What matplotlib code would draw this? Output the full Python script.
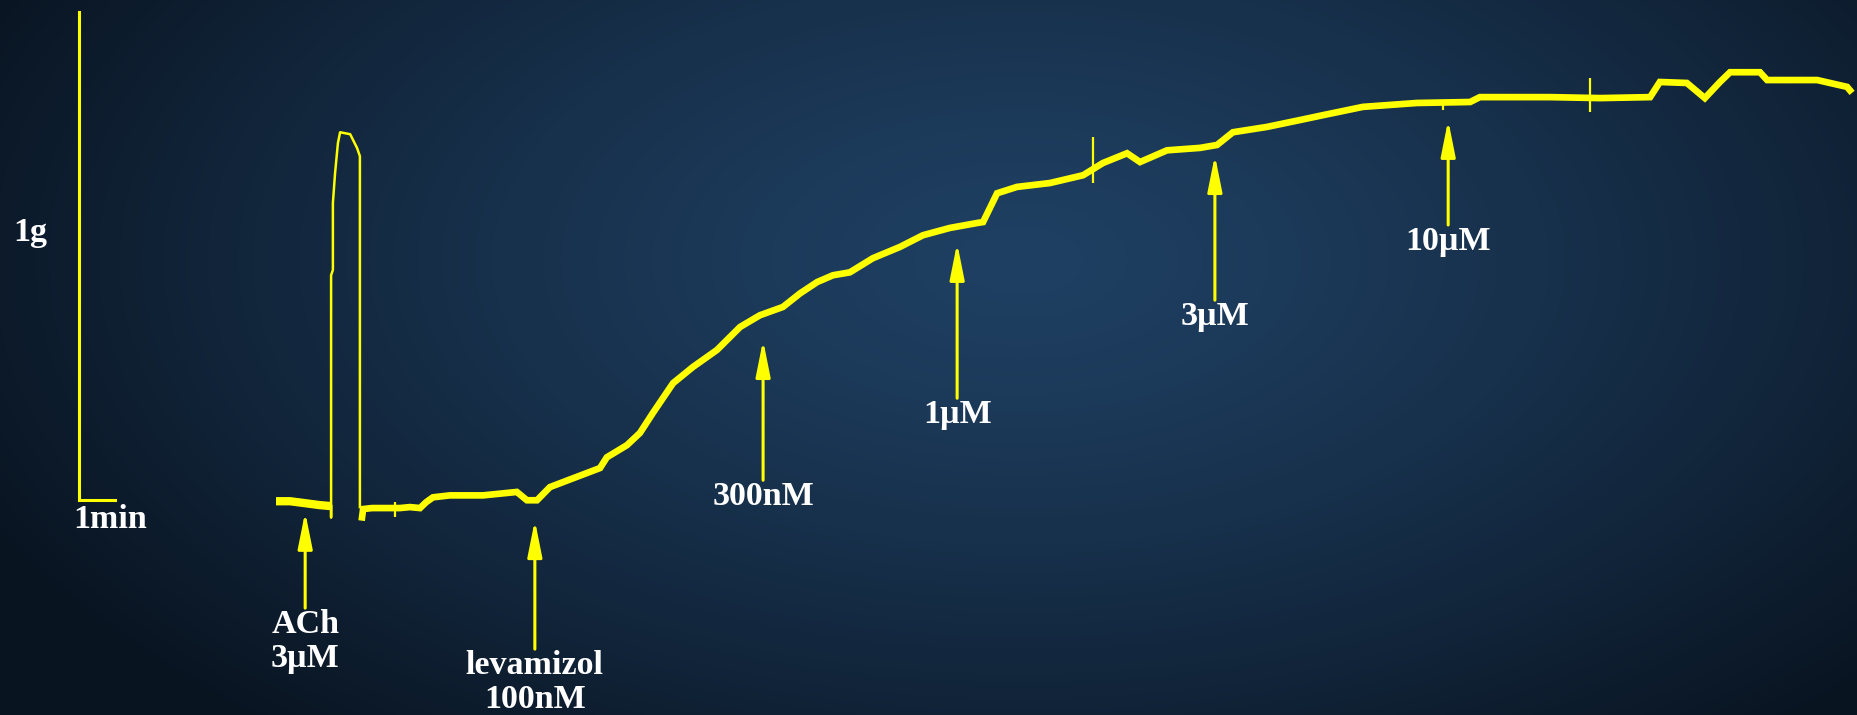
import numpy as np
import matplotlib.pyplot as plt

# Organ-bath tension recording: time in min, tension in g (0 = resting baseline)
baseline_t = [0.00, 0.39, 0.81, 1.22, 1.53]
baseline_g = [0.008, 0.008, 0.004, 0.000, -0.002]

# ACh 3 uM reference contraction, then wash
peak_t = [1.53, 1.53, 1.53, 1.58, 1.58, 1.64, 1.72, 1.78, 2.06, 2.25, 2.33, 2.33]
peak_g = [-0.002, -0.025, 0.471, 0.482, 0.619, 0.680, 0.742, 0.764, 0.760, 0.732, 0.715, -0.004]

# cumulative levamisole concentration-response
curve_t = [2.39, 2.42, 2.67, 3.17, 3.44, 3.72, 4.00, 4.17, 4.36, 4.83, 5.75, 6.69,
           6.97, 7.25, 7.61, 8.25, 9.00, 9.19, 9.75, 10.11, 10.47, 11.03, 11.58,
           12.25, 12.89, 13.44, 14.08, 14.56, 15.03, 15.47, 15.94, 16.58, 17.33,
           17.97, 18.72, 19.47, 19.64, 20.03, 20.58, 21.50, 22.42, 22.97, 23.64,
           24.00, 24.75, 25.67, 26.14, 26.58, 27.53, 28.44, 29.08, 30.19, 31.69,
           33.17, 33.44, 35.39, 36.78, 38.17, 38.44, 39.19, 39.69, 40.11, 40.39,
           41.22, 41.42, 42.81, 43.64, 43.72]
curve_g = [-0.025, -0.008, -0.006, -0.006, -0.006, -0.004, -0.006, 0.006, 0.016,
           0.020, 0.020, 0.027, 0.010, 0.010, 0.037, 0.055, 0.076, 0.098, 0.123,
           0.148, 0.189, 0.250, 0.283, 0.318, 0.365, 0.389, 0.406, 0.434, 0.457,
           0.471, 0.477, 0.506, 0.529, 0.553, 0.568, 0.578, 0.580, 0.639, 0.652,
           0.660, 0.676, 0.701, 0.721, 0.703, 0.727, 0.732, 0.738, 0.764, 0.775,
           0.789, 0.799, 0.816, 0.824, 0.826, 0.836, 0.836, 0.834, 0.836, 0.867,
           0.865, 0.834, 0.867, 0.887, 0.887, 0.871, 0.871, 0.857, 0.850]

# artefact spikes: time, low, high
spike_t = [3.31, 22.69, 32.42, 36.50]
spike_lo = [-0.025, 0.660, 0.809, 0.805]
spike_hi = [0.006, 0.754, 0.826, 0.875]

# drug additions: label, time, arrow tip, arrow tail
doses = ['ACh\n3µM', 'levamizol\n100nM', '300nM', '1µM', '3µM', '10µM']
dose_t = [0.81, 7.19, 13.53, 18.92, 26.08, 32.56]
tip_g = [-0.014, -0.031, 0.338, 0.537, 0.717, 0.789]
tail_g = [-0.211, -0.295, 0.051, 0.219, 0.420, 0.574]

# calibration bar
bar_t, bar_g = -5.47, 0.010

YELLOW = '#ffff00'
plt.rcParams['font.family'] = ['Liberation Serif', 'DejaVu Serif']
FS = 24.5

fig = plt.figure(figsize=(18.58, 7.15), dpi=100)
ax = fig.add_axes([0, 0, 1, 1])
xmin, xmax = -7.667, 43.944
ymin, ymax = -0.430, 1.035

# dark navy background, lighter toward the middle
yy, xx = np.mgrid[0:715, 0:1858]
r = np.sqrt(((xx - 1020) / 1150.0) ** 2 + ((yy - 260) / 620.0) ** 2)
r = np.clip(r, 0, 1) ** 1.3
c0 = np.array([31, 64, 99]) / 255.0
c1 = np.array([9, 20, 33]) / 255.0
bg = c0[None, None, :] * (1 - r[..., None]) + c1[None, None, :] * r[..., None]
ax.imshow(bg, extent=[xmin, xmax, ymin, ymax], aspect='auto', zorder=0)

ax.plot(baseline_t, baseline_g, color=YELLOW, lw=6, solid_capstyle='butt', zorder=3)
ax.plot(peak_t, peak_g, color=YELLOW, lw=1.8, zorder=3)
ax.plot(curve_t, curve_g, color=YELLOW, lw=4.8, solid_joinstyle='miter', zorder=3)
ax.vlines(spike_t, spike_lo, spike_hi, color=YELLOW, lw=1.6, zorder=3)

# scale bar
ax.plot([bar_t, bar_t, bar_t + 1], [bar_g + 1, bar_g, bar_g], color=YELLOW, lw=2.2,
        solid_joinstyle='miter', zorder=3)
ax.text(-6.83, 0.559, '1g', color='white', fontsize=FS, fontweight='bold',
        ha='center', va='center')
ax.text(-4.61, -0.029, '1min', color='white', fontsize=FS, fontweight='bold',
        ha='center', va='center')

for lab, t, tip, tail in zip(doses, dose_t, tip_g, tail_g):
    ax.annotate('', xy=(t, tip), xytext=(t, tail),
                arrowprops=dict(arrowstyle='-|>,head_length=1.1,head_width=0.22',
                                mutation_scale=20, color=YELLOW, lw=2.2,
                                shrinkA=0, shrinkB=0), zorder=4)
    ax.text(t, tail - 0.002, lab, color='white', fontsize=FS, fontweight='bold',
            ha='center', va='top', linespacing=1.12, zorder=4)

ax.set_xlim(xmin, xmax)
ax.set_ylim(ymin, ymax)
ax.axis('off')
fig.savefig('out.png', dpi=100)
